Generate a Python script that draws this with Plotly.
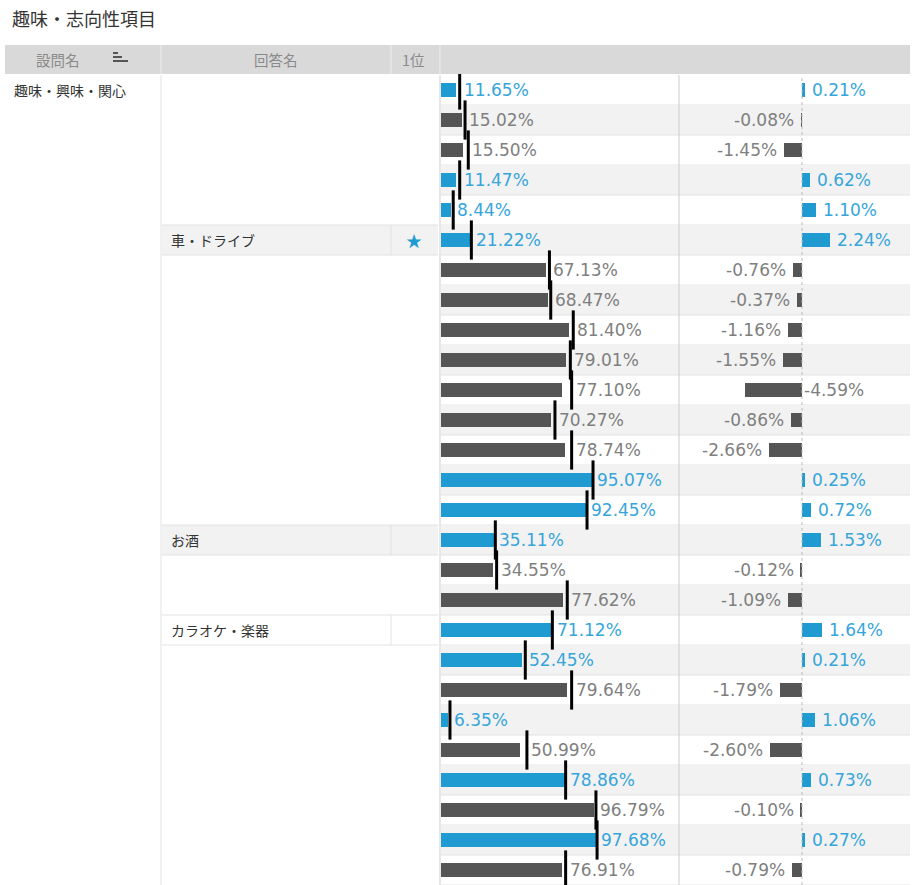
import plotly.graph_objects as go

# ---------------- data ----------------
title_text = "趣味・志向性項目"
header_labels = ["設問名", "回答名", "1位"]
question = "趣味・興味・関心"
answer_names = ["", "", "", "", "", "車・ドライブ", "", "", "", "", "", "", "", "", "",
                "お酒", "", "", "カラオケ・楽器", "", "", "", "", "", "", "", ""]
rank1 = ["", "", "", "", "", "★", "", "", "", "", "", "", "", "", "",
         "", "", "", "", "", "", "", "", "", "", "", ""]
values = [11.65, 15.02, 15.50, 11.47, 8.44, 21.22, 67.13, 68.47, 81.40, 79.01, 77.10,
          70.27, 78.74, 95.07, 92.45, 35.11, 34.55, 77.62, 71.12, 52.45, 79.64, 6.35,
          50.99, 78.86, 96.79, 97.68, 76.91]
diffs = [0.21, -0.08, -1.45, 0.62, 1.10, 2.24, -0.76, -0.37, -1.16, -1.55, -4.59,
         -0.86, -2.66, 0.25, 0.72, 1.53, -0.12, -1.09, 1.64, 0.21, -1.79, 1.06,
         -2.60, 0.73, -0.10, 0.27, -0.79]
benchmark = [13.7, 17.0, 19.0, 13.7, 9.7, 20.9, 69.1, 69.9, 83.8, 82.0, 82.8, 72.5,
             82.8, 96.0, 92.3, 35.7, 36.5, 80.1, 70.9, 54.2, 82.8, 7.7, 55.2, 79.1,
             97.8, 98.5, 79.1]

# ---------------- style ----------------
W, H = 918, 885
BLUE = "#1f9bd1"
BLUE_TXT = "#36a5da"
GRAY = "#555555"
GRAY_TXT = "#7f7f7f"
ROW_ALT = "#f2f2f2"
LINE = "#e2e2e2"
NUM_FONT = "DejaVu Sans"
NUM_SIZE = 17
JP_FONT = "Noto Sans CJK JP"
ROW_H = 30
BODY_TOP = 75
INSIDE_LIMIT = -4.0

n = len(values)
rows = list(range(n))
bar_colors = [BLUE if d > 0 else GRAY for d in diffs]
txt_colors = [BLUE_TXT if d > 0 else GRAY_TXT for d in diffs]


def px(x):
    return x / W


def py(y):
    return 1 - y / H


# left panel: 0% at px 437.5, 1.62 px per %
X0_PX, SCALE1 = 437.5, 1.62
L1, R1 = 441, 679
# right panel: zero at px 802, 12.4 px per %
Z_PX, SCALE2 = 802, 12.4
R2 = 910

fig = go.Figure()

fig.add_trace(go.Bar(
    x=values, y=rows, orientation="h", width=0.47,
    marker=dict(color=bar_colors, line=dict(width=0)),
    xaxis="x", yaxis="y", hoverinfo="skip", showlegend=False))

fig.add_trace(go.Scatter(
    x=benchmark, y=rows, mode="markers",
    marker=dict(symbol="line-ns", size=28, line=dict(width=3, color="#000000"), color="#000000"),
    xaxis="x", yaxis="y", hoverinfo="skip", showlegend=False, cliponaxis=False))

fig.add_trace(go.Bar(
    x=diffs, y=rows, orientation="h", width=0.47,
    marker=dict(color=bar_colors, line=dict(width=0)),
    xaxis="x2", yaxis="y", hoverinfo="skip", showlegend=False))

shapes = []
ann = []

body_y0 = py(H)
body_y1 = py(BODY_TOP)

# row backgrounds and separators
for i in rows:
    if i % 2 == 1:
        shapes.append(dict(type="rect", xref="paper", yref="y", x0=px(L1), x1=px(R2),
                           y0=i - 0.5, y1=i + 0.5, fillcolor=ROW_ALT, line=dict(width=0),
                           layer="below"))
    shapes.append(dict(type="line", xref="paper", yref="y", x0=px(L1), x1=px(R2),
                       y0=i + 0.5, y1=i + 0.5, line=dict(color=LINE, width=1), layer="below"))
    if answer_names[i]:
        if i % 2 == 1:
            shapes.append(dict(type="rect", xref="paper", yref="y", x0=px(162), x1=px(438),
                               y0=i - 0.5, y1=i + 0.5, fillcolor=ROW_ALT,
                               line=dict(width=0), layer="below"))
        for yy in (i - 0.5, i + 0.5):
            shapes.append(dict(type="line", xref="paper", yref="y", x0=px(162), x1=px(438),
                               y0=yy, y1=yy, line=dict(color=LINE, width=1), layer="below"))
        shapes.append(dict(type="line", xref="paper", yref="y", x0=px(391), x1=px(391),
                           y0=i - 0.5, y1=i + 0.5, line=dict(color=LINE, width=1), layer="below"))
        ann.append(dict(xref="paper", yref="y", x=px(169), y=i, xanchor="left",
                        yanchor="middle", text=answer_names[i], showarrow=False,
                        font=dict(family=JP_FONT, size=14, color="#333333")))
    if rank1[i]:
        ann.append(dict(xref="paper", yref="y", x=px(414), y=i, xanchor="center",
                        yanchor="middle", text=rank1[i], showarrow=False,
                        font=dict(family=JP_FONT, size=16, color=BLUE)))

# vertical lines in body
shapes.append(dict(type="line", xref="paper", yref="paper", x0=px(161), x1=px(161),
                   y0=body_y0, y1=body_y1, line=dict(color=LINE, width=1)))
shapes.append(dict(type="line", xref="paper", yref="paper", x0=px(440), x1=px(440),
                   y0=body_y0, y1=body_y1, line=dict(color="#cfcfcf", width=1)))
shapes.append(dict(type="line", xref="paper", yref="paper", x0=px(R1), x1=px(R1),
                   y0=body_y0, y1=body_y1, line=dict(color="#cccccc", width=1)))
shapes.append(dict(type="line", xref="x2", yref="paper", x0=0, x1=0,
                   y0=body_y0, y1=body_y1, line=dict(color="#bbbbbb", width=1, dash="dot")))

# header
shapes.append(dict(type="rect", xref="paper", yref="paper", x0=px(5), x1=px(R2),
                   y0=py(74), y1=py(45), fillcolor="#d9d9d9", line=dict(width=0)))
for xx in (161, 391, 440):
    shapes.append(dict(type="line", xref="paper", yref="paper", x0=px(xx), x1=px(xx),
                       y0=py(74), y1=py(45), line=dict(color="#eeeeee", width=1)))
# sort icon
for (xe, yy, wdt) in ((118, 53, 2), (122, 57, 2), (128, 61, 2)):
    shapes.append(dict(type="line", xref="paper", yref="paper", x0=px(113), x1=px(xe),
                       y0=py(yy), y1=py(yy), line=dict(color="#555555", width=wdt)))

for txt, cx in zip(header_labels, (58, 276, 413)):
    ann.append(dict(xref="paper", yref="paper", x=px(cx), y=py(59.5), xanchor="center",
                    yanchor="middle", text=txt, showarrow=False,
                    font=dict(family=JP_FONT, size=14.5, color="#8a8a8a")))

# title
ann.append(dict(xref="paper", yref="paper", x=px(10), y=py(18), xanchor="left",
                yanchor="middle", text=title_text, showarrow=False,
                font=dict(family=JP_FONT, size=18, color="#333333")))
# question name
ann.append(dict(xref="paper", yref="y", x=px(12), y=0, xanchor="left", yanchor="middle",
                text=question, showarrow=False,
                font=dict(family=JP_FONT, size=14, color="#333333")))

# value labels
for i in rows:
    ann.append(dict(xref="x", yref="y", x=max(values[i], benchmark[i]), y=i,
                    xanchor="left", yanchor="middle", xshift=2,
                    text=f"{values[i]:.2f}%", showarrow=False,
                    font=dict(family=NUM_FONT, size=NUM_SIZE, color=txt_colors[i])))
    d = diffs[i]
    if d > 0:
        ann.append(dict(xref="x2", yref="y", x=d, y=i, xanchor="left", yanchor="middle",
                        xshift=5, text=f"{d:.2f}%", showarrow=False,
                        font=dict(family=NUM_FONT, size=NUM_SIZE, color=txt_colors[i])))
    elif d < INSIDE_LIMIT:
        ann.append(dict(xref="x2", yref="y", x=0, y=i, xanchor="left", yanchor="middle",
                        xshift=0, text=f"{d:.2f}%", showarrow=False,
                        font=dict(family=NUM_FONT, size=NUM_SIZE, color=txt_colors[i])))
    else:
        ann.append(dict(xref="x2", yref="y", x=d, y=i, xanchor="right", yanchor="middle",
                        xshift=-5, text=f"{d:.2f}%", showarrow=False,
                        font=dict(family=NUM_FONT, size=NUM_SIZE, color=txt_colors[i])))

fig.update_layout(
    width=W, height=H, margin=dict(l=0, r=0, t=0, b=0),
    paper_bgcolor="#ffffff", plot_bgcolor="rgba(0,0,0,0)",
    bargap=0, barmode="overlay",
    xaxis=dict(domain=[px(L1), px(R1)],
               range=[(L1 - X0_PX) / SCALE1, (R1 - X0_PX) / SCALE1],
               visible=False, fixedrange=True),
    xaxis2=dict(domain=[px(R1), px(R2)],
                range=[-(Z_PX - R1) / SCALE2, (R2 - Z_PX) / SCALE2],
                visible=False, anchor="y", fixedrange=True),
    yaxis=dict(domain=[0, (H - BODY_TOP) / H], range=[n - 0.5, -0.5],
               visible=False, fixedrange=True),
    shapes=shapes, annotations=ann, showlegend=False,
)

fig.write_html("out.html")
